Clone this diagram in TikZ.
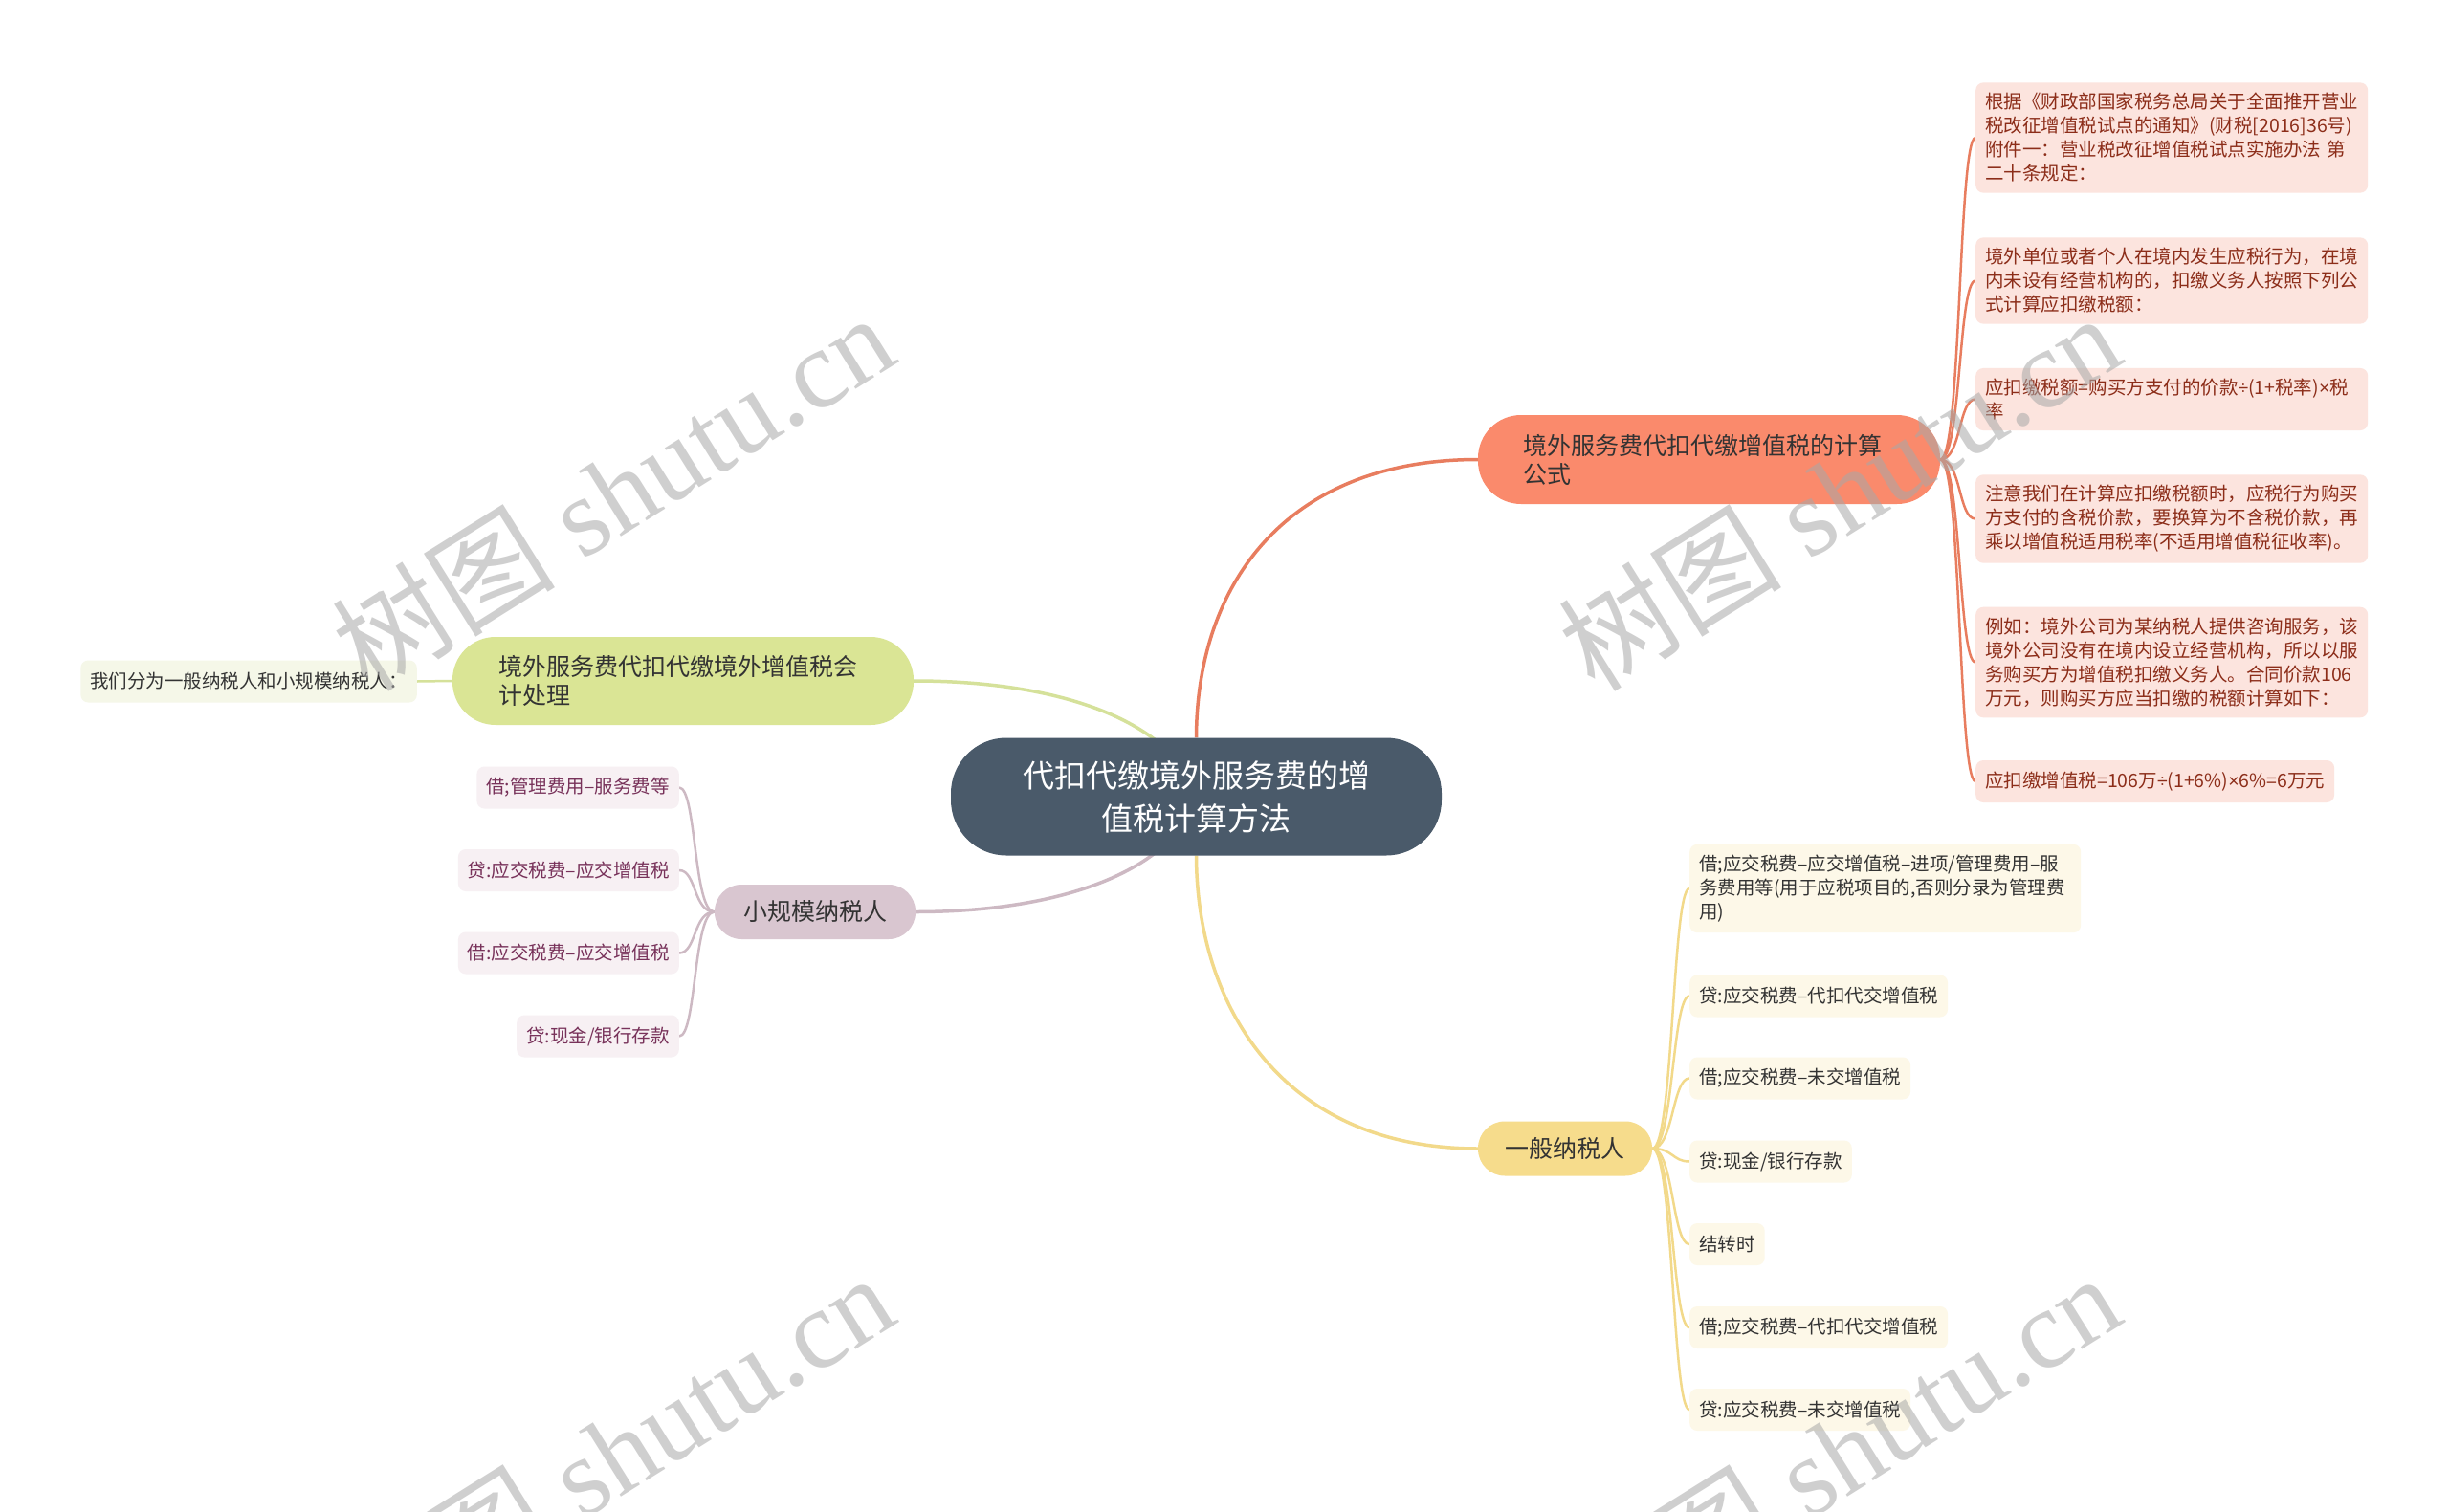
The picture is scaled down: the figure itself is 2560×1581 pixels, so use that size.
\documentclass[tikz,border=0pt]{standalone}
\usepackage{fontspec}
\setmainfont{Noto Sans CJK SC}
\newfontfamily\wmfont{Liberation Serif}
\newfontfamily\wmcjk{Noto Sans CJK SC}
\newfontfamily\latf{Liberation Sans}
\newcommand{\mydiv}{{\latf ÷}}
\newcommand{\mytimes}{{\latf ×}}
\usetikzlibrary{backgrounds}
\definecolor{rootc}{HTML}{4A5A6A}
\definecolor{orgf}{HTML}{FA8A6C}
\definecolor{orgl}{HTML}{E87D5F}
\definecolor{pinkf}{HTML}{FCE4DE}
\definecolor{pinkt}{HTML}{8C2D19}
\definecolor{grnf}{HTML}{DAE595}
\definecolor{grnl}{HTML}{D5E19A}
\definecolor{grnleaf}{HTML}{F5F7E8}
\definecolor{mauf}{HTML}{D9C6D0}
\definecolor{maul}{HTML}{CDB9C3}
\definecolor{mauleaf}{HTML}{F7F0F3}
\definecolor{maut}{HTML}{78325A}
\definecolor{yelf}{HTML}{F6DC8C}
\definecolor{yell}{HTML}{F2D98A}
\definecolor{yelleaf}{HTML}{FDF8E8}
\definecolor{txtc}{HTML}{333333}
\definecolor{wmc}{HTML}{A8A8A8}
\tikzset{
  root/.style={fill=rootc, text=white, rounded corners=58pt, minimum width=513pt,
    minimum height=123pt, align=center, inner sep=0pt, font=\fontsize{33}{45}\selectfont},
  topic/.style={rounded corners=45pt, text=txtc, inner ysep=4pt,
    font=\fontsize{25}{30}\selectfont},
  leaf/.style={rounded corners=8pt, font=\fontsize{19.5}{25}\selectfont,
    inner xsep=10pt, inner ysep=11pt, minimum height=44pt, align=left},
  pinkleaf/.style={leaf, fill=pinkf, text=pinkt, anchor=west},
  yelleafs/.style={leaf, fill=yelleaf, text=txtc, anchor=west},
  mauleafs/.style={leaf, fill=mauleaf, text=maut, anchor=east},
  grnleafs/.style={leaf, fill=grnleaf, text=txtc, anchor=east},
  mainline/.style={line width=3.5pt},
  subline/.style={line width=2.5pt},
  wm/.style={rotate=32, text=wmc, text opacity=0.55, inner sep=0pt,
    font=\wmfont\fontsize{117}{117}\selectfont}
}
\begin{document}
\begin{tikzpicture}[x=1pt,y=-1pt]
\useasboundingbox (0,0) rectangle (2560,1581);
% root
\node[root] (c) at (1250.5,833) {代扣代缴境外服务费的增\\值税计算方法};
% orange branch
\node[topic, fill=orgf, text width=389pt, inner xsep=47pt, minimum height=93pt, align=left] (o) at (1786.5,480.5)
  {境外服务费代扣代缴增值税的计算\\公式};
\node[pinkleaf, text width=390pt] (p1) at (2065,144) {根据《财政部国家税务总局关于全面推开营业\\税改征增值税试点的通知》(财税[2016]36号)\\附件一：营业税改征增值税试点实施办法 第\\二十条规定：};
\node[pinkleaf, text width=390pt] (p2) at (2065,293.5) {境外单位或者个人在境内发生应税行为，在境\\内未设有经营机构的，扣缴义务人按照下列公\\式计算应扣缴税额：};
\node[pinkleaf, text width=390pt] (p3) at (2065,417.5) {应扣缴税额=购买方支付的价款\mydiv(1+税率)\mytimes 税\\率};
\node[pinkleaf, text width=390pt] (p4) at (2065,542.5) {注意我们在计算应扣缴税额时，应税行为购买\\方支付的含税价款，要换算为不含税价款，再\\乘以增值税适用税率(不适用增值税征收率)。};
\node[pinkleaf, text width=390pt] (p5) at (2065,692.5) {例如：境外公司为某纳税人提供咨询服务，该\\境外公司没有在境内设立经营机构，所以以服\\务购买方为增值税扣缴义务人。合同价款106\\万元，则购买方应当扣缴的税额计算如下：};
\node[pinkleaf] (p6) at (2065,817) {应扣缴增值税=106万\mydiv(1+6\%)\mytimes 6\%=6万元};
% green branch
\node[topic, fill=grnf, text width=386pt, inner xsep=48pt, minimum height=92pt, align=left] (g) at (714,712)
  {境外服务费代扣代缴境外增值税会\\计处理};
\node[grnleafs] (g1) at (436,712.5) {我们分为一般纳税人和小规模纳税人：};
% mauve branch
\node[topic, fill=mauf, rounded corners=28pt, minimum width=210pt, minimum height=57pt] (m) at (852,953.5) {小规模纳税人};
\node[mauleafs] (m1) at (710,823.5) {借;管理费用–服务费等};
\node[mauleafs] (m2) at (710,910) {贷:应交税费–应交增值税};
\node[mauleafs] (m3) at (710,996.5) {借:应交税费–应交增值税};
\node[mauleafs] (m4) at (710,1083.5) {贷:现金/银行存款};
% yellow branch
\node[topic, fill=yelf, rounded corners=28pt, minimum width=182pt, minimum height=57pt] (y) at (1636,1201) {一般纳税人};
\node[yelleafs, text width=389pt] (y1) at (1766,929) {借;应交税费–应交增值税–进项/管理费用–服\\务费用等(用于应税项目的,否则分录为管理费\\用)};
\node[yelleafs] (y2) at (1766,1041.5) {贷:应交税费–代扣代交增值税};
\node[yelleafs] (y3) at (1766,1127.5) {借;应交税费–未交增值税};
\node[yelleafs] (y4) at (1766,1214.5) {贷:现金/银行存款};
\node[yelleafs] (y5) at (1766,1301) {结转时};
\node[yelleafs] (y6) at (1766,1388) {借;应交税费–代扣代交增值税};
\node[yelleafs] (y7) at (1766,1474) {贷:应交税费–未交增值税};
% connectors
\begin{scope}[on background layer]
\fill[white] (0,0) rectangle (2560,1581);
\draw[mainline, orgl] (c.north) .. controls (1251,612) and (1343,480.5) .. (o.west);
\draw[mainline, yell] (c.south) .. controls (1251,1055) and (1343,1201) .. (y.west);
\draw[mainline, grnl] (g.east) .. controls (1120,712) and (1230,760) .. (c.center);
\draw[mainline, maul] (m.east) .. controls (1120,953.5) and (1230,905) .. (c.center);
\foreach \n in {p1,p2,p3,p4,p5,p6}
  \draw[subline, orgl] (o.east) .. controls +(22,0) and +(-18,0) .. (\n.west);
\foreach \n in {y1,y2,y3,y4,y5,y6,y7}
  \draw[subline, yell] (y.east) .. controls +(22,0) and +(-18,0) .. (\n.west);
\foreach \n in {m1,m2,m3,m4}
  \draw[subline, maul] (m.west) .. controls +(-22,0) and +(18,0) .. (\n.east);
\draw[subline, grnl] (g.west) -- (g1.east);
\end{scope}
% watermarks
\node[wm] (w1) at (640,514) {{\wmcjk 树图} shutu.cn};
\node[wm] (w2) at (1922,514) {{\wmcjk 树图} shutu.cn};
\node[wm] (w3) at (640,1518) {{\wmcjk 树图} shutu.cn};
\node[wm] (w4) at (1922,1518) {{\wmcjk 树图} shutu.cn};
\end{tikzpicture}
\end{document}
